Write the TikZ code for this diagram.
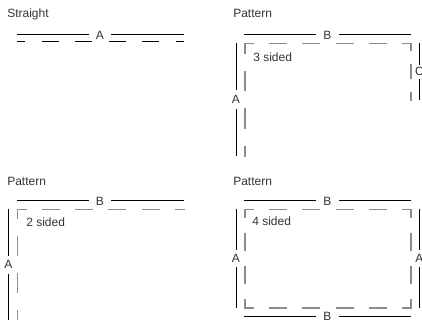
\documentclass[tikz,border=0pt]{standalone}
\usepackage{fontspec}
\setmainfont{Liberation Sans}
\definecolor{ink}{HTML}{333333}
\definecolor{dashgray}{HTML}{8C8C8C}
\begin{document}
\begin{tikzpicture}[x=0.75pt,y=-0.75pt,
  font=\fontsize{9pt}{10.5pt}\selectfont,
  title/.style={anchor=base west, inner sep=0pt, text=ink},
  hlbl/.style={minimum width=16.5pt, inner sep=0pt, text=ink},
  vlbl/.style={minimum height=12.5pt, inner sep=0pt, text=ink},
  rule/.style={draw=black, line width=0.75pt},
  dashside/.style={draw=dashgray, line width=1pt, line cap=rect},
  hdash/.style={dash pattern=on 12.45pt off 12.45pt, dash phase=6.225pt}]
\useasboundingbox (0,0) rectangle (422,320);
\clip (0,0) rectangle (422,320);

% ---------- Panel 1: Straight ----------
\node[title] (t1) at (7,17.5) {Straight};
\coordinate (p1l) at (17,35);
\coordinate (p1r) at (184,35);
\node[hlbl] (p1A) at (100,35) {A};
\draw[rule] (p1l) -- (p1A.west);
\draw[rule] (p1A.east) -- (p1r);
\coordinate (p1dl) at (17,42);
\coordinate (p1dr) at (184,42);
\draw[rule, dash pattern=on 12.525pt off 12.525pt, dash phase=6.26pt] (p1dl) -- (p1dr);

% ---------- Panel 2: Pattern, 3 sided ----------
\node[title] (t2) at (233,17.5) {Pattern};
\coordinate (p2bl) at (244,35);
\coordinate (p2br) at (411,35);
\node[hlbl] (p2B) at (327.5,35) {B};
\draw[rule] (p2bl) -- (p2B.west);
\draw[rule] (p2B.east) -- (p2br);
\coordinate (q2tl) at (245,43.5);
\coordinate (q2tr) at (411,43.5);
\coordinate (q2bl) at (245,156);
\coordinate (q2br) at (411,100);
\draw[dashside, hdash] (q2tl) -- (q2tr);
\draw[dashside, dash pattern=on 14.06pt off 14.06pt, dash phase=7.03pt] (q2tl) -- (q2bl);
\draw[dashside, dash pattern=on 10.59pt off 10.59pt, dash phase=5.3pt] (q2tr) -- (q2br);
\coordinate (s2lt) at (236,43.5);
\coordinate (s2lb) at (236,156);
\node[vlbl, minimum height=14pt] (p2A) at (236,99.75) {A};
\draw[rule] (s2lt) -- (p2A.north);
\draw[rule] (p2A.south) -- (s2lb);
\coordinate (s2rt) at (419.5,43.5);
\coordinate (s2rb) at (419.5,100);
\node[vlbl, minimum height=10pt] (p2C) at (419.5,71.75) {C};
\draw[rule] (s2rt) -- (p2C.north);
\draw[rule] (p2C.south) -- (s2rb);
\node[title] (n3) at (253,62) {3 sided};

% ---------- Panel 3: Pattern, 2 sided ----------
\node[title] (t3) at (7,185.5) {Pattern};
\coordinate (p3bl) at (17,201);
\coordinate (p3br) at (184,201);
\node[hlbl] (p3B) at (100,201) {B};
\draw[rule] (p3bl) -- (p3B.west);
\draw[rule] (p3B.east) -- (p3br);
\coordinate (q3tl) at (17.5,209.5);
\coordinate (q3tr) at (184,209.5);
\coordinate (q3bl) at (17.5,320);
\draw[dashside, dash pattern=on 12.49pt off 12.49pt, dash phase=6.24pt] (q3tl) -- (q3tr);
\draw[dashside, dash pattern=on 13.81pt off 13.81pt, dash phase=6.9pt] (q3tl) -- (q3bl);
\coordinate (s3lt) at (8.3,209.5);
\coordinate (s3lb) at (8.3,320);
\node[vlbl, minimum height=13pt] (p3A) at (8.3,264.75) {A};
\draw[rule] (s3lt) -- (p3A.north);
\draw[rule] (p3A.south) -- (s3lb);
\node[title] (n2) at (26,227) {2 sided};

% ---------- Panel 4: Pattern, 4 sided ----------
\node[title] (t4) at (233,185.5) {Pattern};
\coordinate (p4bl) at (244,201);
\coordinate (p4br) at (411,201);
\node[hlbl] (p4B) at (327.5,201) {B};
\draw[rule] (p4bl) -- (p4B.west);
\draw[rule] (p4B.east) -- (p4br);
\coordinate (q4tl) at (245,209.5);
\coordinate (q4tr) at (411,209.5);
\coordinate (q4bl) at (245,308);
\coordinate (q4br) at (411,308);
\draw[dashside, hdash] (q4tl) -- (q4tr);
\draw[dashside, hdash] (q4bl) -- (q4br);
\draw[dashside, dash pattern=on 12.31pt off 12.31pt, dash phase=6.16pt] (q4tl) -- (q4bl);
\draw[dashside, dash pattern=on 12.31pt off 12.31pt, dash phase=6.16pt] (q4tr) -- (q4br);
\coordinate (s4lt) at (236,209.5);
\coordinate (s4lb) at (236,308);
\node[vlbl] (p4A) at (236,258.75) {A};
\draw[rule] (s4lt) -- (p4A.north);
\draw[rule] (p4A.south) -- (s4lb);
\coordinate (s4rt) at (419.5,209.5);
\coordinate (s4rb) at (419.5,308);
\node[vlbl] (p4A2) at (419.5,258.75) {A};
\draw[rule] (s4rt) -- (p4A2.north);
\draw[rule] (p4A2.south) -- (s4rb);
\coordinate (p4ol) at (244,316.5);
\coordinate (p4or) at (411,316.5);
\node[hlbl] (p4B2) at (327.5,316.5) {B};
\draw[rule] (p4ol) -- (p4B2.west);
\draw[rule] (p4B2.east) -- (p4or);
\node[title] (n4) at (252,226) {4 sided};
\end{tikzpicture}
\end{document}
